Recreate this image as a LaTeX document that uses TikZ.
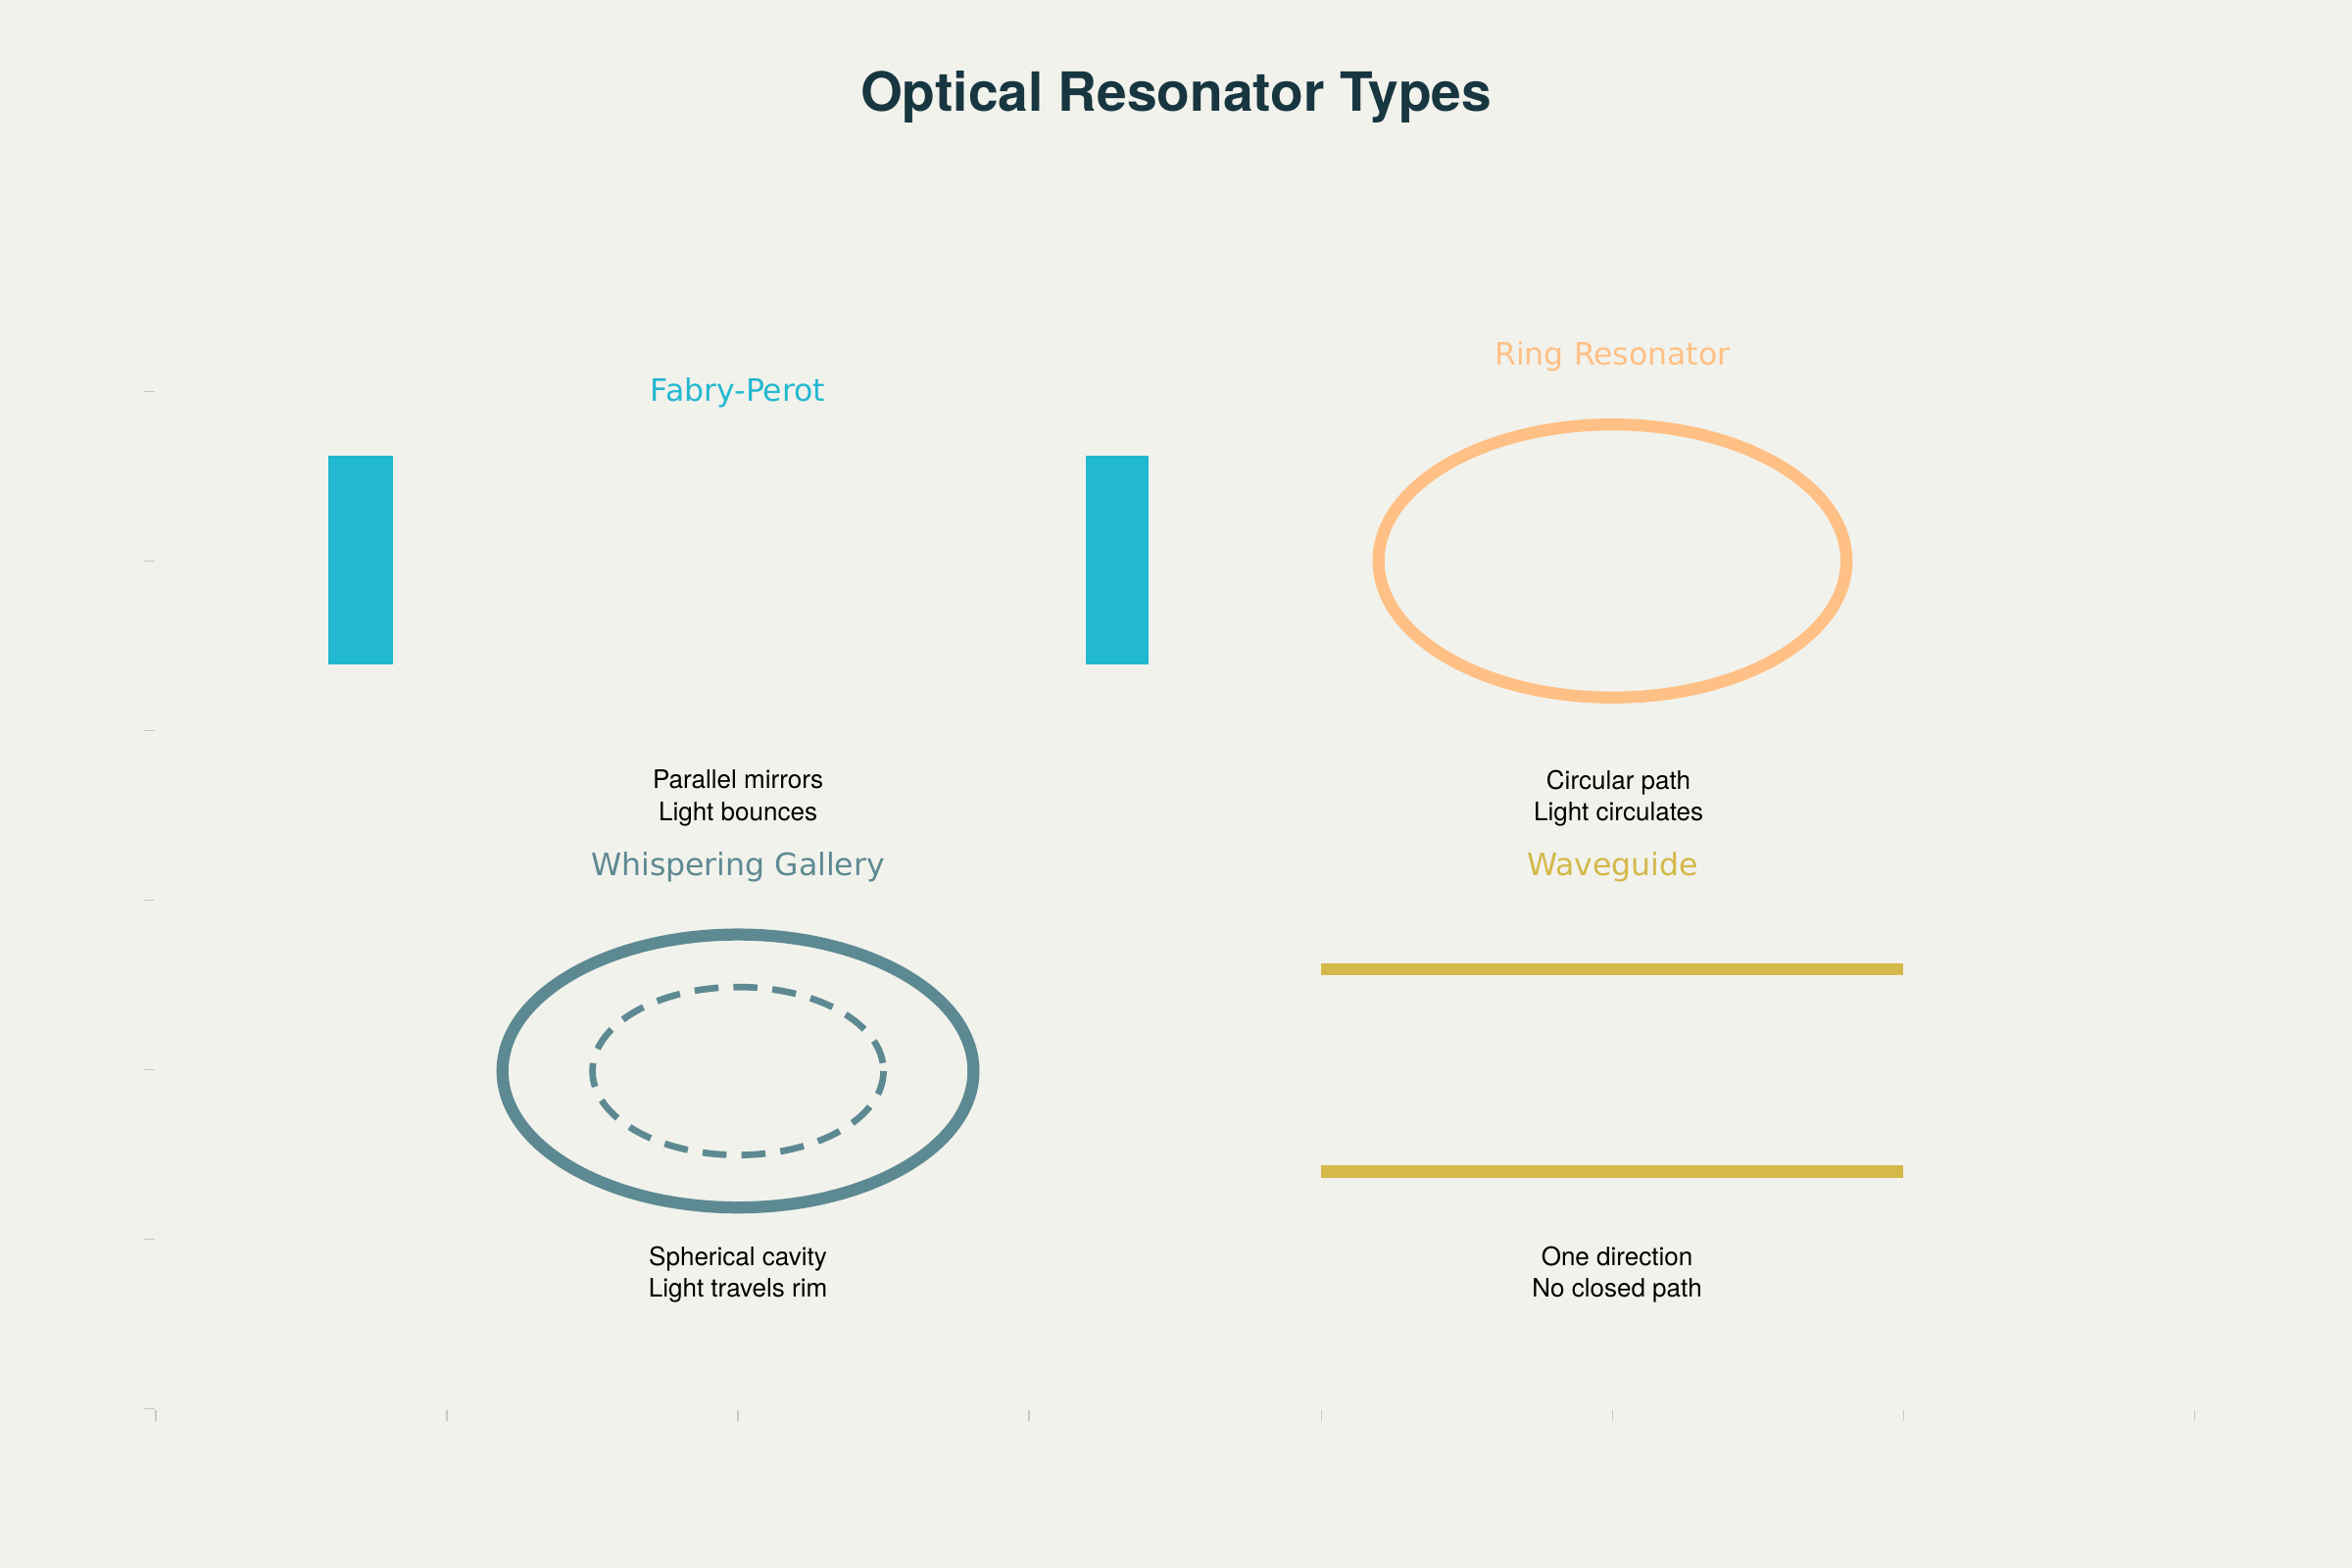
\documentclass[tikz,border=0pt]{standalone}
\usepackage{fontspec}
\setmainfont{TeX Gyre Heros}
\newfontfamily\labfont{DejaVu Sans}
\definecolor{bg}{HTML}{F2F2EC}
\definecolor{titlec}{HTML}{173640}
\definecolor{fp}{HTML}{22B8CF}
\definecolor{ring}{HTML}{FFC085}
\definecolor{wg}{HTML}{5D8A92}
\definecolor{wave}{HTML}{D4B84A}
\definecolor{tick}{HTML}{C8C8C2}
\begin{document}
\begin{tikzpicture}[x=0.5pt,y=-0.5pt,
  lab/.style={font=\labfont\fontsize{10.3}{12}\selectfont},
  desc/.style={font=\fontsize{8.5}{10.5}\selectfont,align=center,text=black},
  thick8/.style={line width=4pt}]
\fill[bg] (0,0) rectangle (1568,1045);
\useasboundingbox (0,0) rectangle (1568,1045);
\node[font=\bfseries\fontsize{18}{22}\selectfont,text=titlec] (title) at (784,65) {Optical Resonator Types};
% ticks
\foreach \y in {261,374,487,600,713,826,939} \draw[tick,line width=0.5pt] (96,\y) -- (103,\y);
\foreach \x in {104,298,492,686,881,1075,1269,1463} \draw[tick,line width=0.5pt] (\x,940) -- (\x,947);
% Fabry-Perot
\node[lab,text=fp] (fpl) at (492,262) {Fabry-Perot};
\fill[fp] (219,304) rectangle (262,443);
\fill[fp] (724,304) rectangle (766,443);
\node[desc] (fpd) at (492,532) {Parallel mirrors\\Light bounces};
% Ring
\node[lab,text=ring] (rl) at (1075,238) {Ring Resonator};
\draw[ring,thick8] (1075,374) ellipse [x radius=156, y radius=91];
\node[desc] (rd) at (1079,532) {Circular path\\Light circulates};
% Whispering gallery
\node[lab,text=wg] (wl) at (492,578) {Whispering Gallery};
\draw[wg,thick8] (492,714) ellipse [x radius=157, y radius=91];
\draw[wg,line width=2.2pt,dash pattern=on 8pt off 5pt] (492,714) ellipse [x radius=97, y radius=56];
\node[desc] (wd) at (492,850) {Spherical cavity\\Light travels rim};
% Waveguide
\node[lab,text=wave] (wvl) at (1075,578) {Waveguide};
\draw[wave,thick8] (881,646) -- (1269,646);
\draw[wave,thick8] (881,781) -- (1269,781);
\node[desc] (wvd) at (1078,850) {One direction\\No closed path};
\end{tikzpicture}
\end{document}
